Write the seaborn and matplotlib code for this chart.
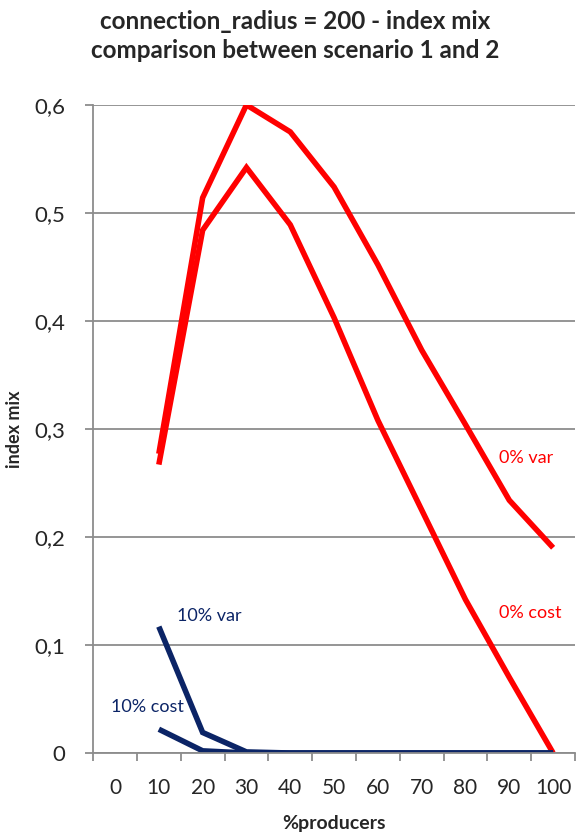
import seaborn as sns
import matplotlib.pyplot as plt
import pandas as pd
from matplotlib.ticker import FixedLocator, FuncFormatter

producers = [10, 20, 30, 40, 50, 60, 70, 80, 90, 100]
var_0 = [0.277, 0.514, 0.600, 0.575, 0.524, 0.452, 0.373, 0.304, 0.234, 0.190]
cost_0 = [0.267, 0.484, 0.542, 0.489, 0.403, 0.308, 0.225, 0.142, 0.070, 0.000]
var_10 = [0.117, 0.019, 0.001, 0.0, 0.0, 0.0, 0.0, 0.0, 0.0, 0.0]
cost_10 = [0.022, 0.002, 0.0, 0.0, 0.0, 0.0, 0.0, 0.0, 0.0, 0.0]
x_ticks = [0, 10, 20, 30, 40, 50, 60, 70, 80, 90, 100]
y_ticks = [0, 0.1, 0.2, 0.3, 0.4, 0.5, 0.6]

RED = '#FF0000'
NAVY = '#0B2466'

sns.set_theme(style="white")
plt.rcParams['font.family'] = ['Lato', 'DejaVu Sans']

fig = plt.figure(figsize=(5.82, 8.39), dpi=100)
ax = fig.add_axes([0.160, 0.1025, 0.828, 0.7725])

series = [(var_0, RED), (cost_0, RED), (var_10, NAVY), (cost_10, NAVY)]
for vals, col in series:
  df = pd.DataFrame({"x": producers, "y": vals})
  sns.lineplot(data=df, x="x", y="y", color=col, lw=4, ax=ax,
               solid_capstyle='butt', solid_joinstyle='miter')

ax.set_xlim(-5, 105)
ax.set_ylim(0, 0.6)
ax.set_yticks(y_ticks)
ax.yaxis.set_major_formatter(FuncFormatter(lambda v, p: '0' if v == 0 else f'{v:.1f}'.replace('.', ',')))
ax.set_xticks(x_ticks)
ax.set_xticklabels([str(t) for t in x_ticks])
ax.xaxis.set_minor_locator(FixedLocator([t - 5 for t in x_ticks] + [105]))

ax.grid(axis='y', color='#8c8c8c', lw=1.3)
ax.set_axisbelow(True)
for s in ['top', 'right']:
  ax.spines[s].set_visible(False)
for s in ['left', 'bottom']:
  ax.spines[s].set_color('#8c8c8c')
  ax.spines[s].set_linewidth(1.3)

ax.tick_params(axis='y', which='major', left=True, length=6, color='#8c8c8c', width=1.3,
               labelsize=16, pad=14)
ax.tick_params(axis='x', which='major', bottom=False, length=0, labelsize=15, pad=18)
ax.tick_params(axis='x', which='minor', bottom=True, length=6, color='#8c8c8c', width=1.3)

ax.set_xlabel('%producers', fontsize=14, fontweight='bold', labelpad=12)
ax.set_ylabel('index mix', fontsize=13, fontweight='bold', labelpad=8)

fig.suptitle('connection_radius = 200 - index mix\ncomparison between scenario 1 and 2',
             x=0.507, y=0.988, fontsize=17.5, fontweight='bold', linespacing=1.32)

ax.text(87.6, 0.273, '0% var', color=RED, fontsize=13, va='center')
ax.text(87.6, 0.130, '0% cost', color=RED, fontsize=13, va='center')
ax.text(14.1, 0.127, '10% var', color=NAVY, fontsize=13, va='center')
ax.text(-0.9, 0.0426, '10% cost', color=NAVY, fontsize=13, va='center')

fig.savefig('out.png', dpi=100)
